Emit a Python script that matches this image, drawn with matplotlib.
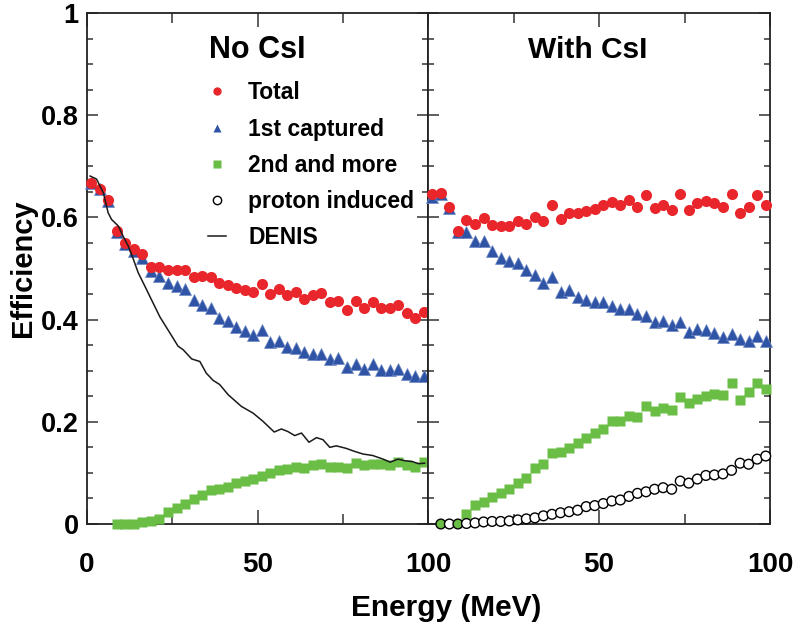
import matplotlib
matplotlib.use('Agg')
import matplotlib.pyplot as plt
from matplotlib.lines import Line2D
from matplotlib.ticker import MultipleLocator, FixedLocator

plt.rcParams['font.family'] = ['Liberation Sans', 'DejaVu Sans']
plt.rcParams['font.weight'] = 'bold'

# ---------------- data ----------------
energy = [1.25, 3.75, 6.25, 8.75, 11.25, 13.75, 16.25, 18.75, 21.25, 23.75,
          26.25, 28.75, 31.25, 33.75, 36.25, 38.75, 41.25, 43.75, 46.25, 48.75,
          51.25, 53.75, 56.25, 58.75, 61.25, 63.75, 66.25, 68.75, 71.25, 73.75,
          76.25, 78.75, 81.25, 83.75, 86.25, 88.75, 91.25, 93.75, 96.25, 98.75]

nocsi_total = [0.668, 0.656, 0.634, 0.573, 0.550, 0.539, 0.528, 0.503, 0.502, 0.497,
               0.497, 0.497, 0.484, 0.485, 0.484, 0.472, 0.467, 0.461, 0.457, 0.454,
               0.470, 0.450, 0.460, 0.448, 0.454, 0.441, 0.448, 0.453, 0.434, 0.437,
               0.418, 0.437, 0.422, 0.435, 0.422, 0.422, 0.428, 0.412, 0.403, 0.414]
nocsi_first = [0.668, 0.656, 0.632, 0.571, 0.547, 0.535, 0.520, 0.495, 0.486, 0.472,
               0.465, 0.460, 0.439, 0.429, 0.422, 0.403, 0.397, 0.385, 0.377, 0.369,
               0.379, 0.356, 0.359, 0.346, 0.344, 0.336, 0.333, 0.333, 0.322, 0.324,
               0.308, 0.314, 0.303, 0.314, 0.302, 0.302, 0.303, 0.294, 0.289, 0.290]
# 2nd and more: starts at the 4th energy bin
nocsi_second = [0.000, 0.000, 0.000, 0.003, 0.005, 0.009, 0.024, 0.031, 0.039,
                0.048, 0.057, 0.067, 0.068, 0.072, 0.080, 0.084, 0.089, 0.094,
                0.099, 0.105, 0.107, 0.111, 0.109, 0.116, 0.118, 0.111, 0.112,
                0.109, 0.119, 0.116, 0.118, 0.118, 0.116, 0.122, 0.116, 0.112, 0.122]

denis_energy = [0.9, 2.8, 4.8, 6.2, 7.2, 9.2, 10.6, 12.1, 13.6, 15.0, 17.0, 18.9,
                21.4, 24.3, 26.7, 28.2, 30.7, 33.1, 35.0, 37.0, 38.9, 41.4, 45.3,
                48.7, 51.6, 54.9, 57.0, 58.9, 60.9, 62.9, 65.1, 67.3, 69.2, 71.2,
                73.1, 76.0, 78.5, 80.9, 83.8, 86.8, 88.9, 91.2, 93.1, 95.5, 97.2, 99.0]
denis_eff = [0.681, 0.675, 0.648, 0.609, 0.596, 0.583, 0.563, 0.544, 0.518, 0.492,
             0.465, 0.439, 0.405, 0.374, 0.348, 0.341, 0.323, 0.318, 0.295, 0.281,
             0.273, 0.253, 0.230, 0.217, 0.201, 0.180, 0.186, 0.181, 0.173, 0.178,
             0.160, 0.169, 0.165, 0.150, 0.153, 0.148, 0.142, 0.137, 0.134, 0.127,
             0.121, 0.127, 0.124, 0.122, 0.118, 0.119]

csi_total = [0.645, 0.648, 0.621, 0.573, 0.594, 0.588, 0.598, 0.585, 0.583, 0.584,
             0.593, 0.588, 0.601, 0.592, 0.624, 0.596, 0.608, 0.608, 0.612, 0.617,
             0.625, 0.630, 0.624, 0.634, 0.621, 0.643, 0.619, 0.625, 0.614, 0.646,
             0.614, 0.629, 0.632, 0.629, 0.620, 0.645, 0.609, 0.621, 0.643, 0.625]
csi_first = [0.640, 0.645, 0.618, 0.571, 0.571, 0.554, 0.554, 0.534, 0.520, 0.514,
             0.510, 0.497, 0.488, 0.471, 0.484, 0.454, 0.458, 0.445, 0.439, 0.434,
             0.434, 0.426, 0.420, 0.420, 0.410, 0.408, 0.395, 0.398, 0.389, 0.395,
             0.376, 0.382, 0.379, 0.373, 0.365, 0.371, 0.363, 0.359, 0.367, 0.359]
# starts at the 5th energy bin
csi_second = [0.020, 0.037, 0.044, 0.052, 0.060, 0.068, 0.080, 0.090, 0.109,
              0.117, 0.139, 0.140, 0.148, 0.159, 0.168, 0.178, 0.186, 0.201,
              0.202, 0.212, 0.209, 0.230, 0.222, 0.227, 0.224, 0.248, 0.237,
              0.245, 0.251, 0.254, 0.252, 0.275, 0.243, 0.259, 0.275, 0.264]
# starts at the 2nd energy bin
csi_proton = [0.000, 0.000, 0.000, 0.001, 0.002, 0.004, 0.005, 0.005, 0.006,
              0.008, 0.010, 0.012, 0.016, 0.019, 0.022, 0.024, 0.027, 0.034,
              0.036, 0.040, 0.045, 0.047, 0.054, 0.060, 0.063, 0.068, 0.071,
              0.068, 0.084, 0.080, 0.088, 0.095, 0.096, 0.098, 0.105, 0.119,
              0.117, 0.127, 0.133]

panel_titles = ['No CsI', 'With CsI']
legend_labels = ['Total', '1st captured', '2nd and more', 'proton induced', 'DENIS']
x_label = 'Energy (MeV)'
y_label = 'Efficiency'

# ---------------- style ----------------
RED = '#E8262B'
BLUE = '#2F54A6'
GREEN = '#6ABD45'

W, H = 798, 640
fig = plt.figure(figsize=(W / 100, H / 100), dpi=100)
x0, x1, x2 = 87, 428, 770
ytop, ybot = 13, 524
axL = fig.add_axes([x0 / W, 1 - ybot / H, (x1 - x0) / W, (ybot - ytop) / H])
axR = fig.add_axes([x1 / W, 1 - ybot / H, (x2 - x1) / W, (ybot - ytop) / H], sharey=axL)

ms_c, ms_t, ms_s, ms_o = 8.0, 8.3, 7.4, 7.0

# left panel
axL.plot(energy[3:], nocsi_second, 's', color=GREEN, ms=ms_s, mec='none', zorder=3, clip_on=False)
axL.plot(energy, nocsi_first, '^', color=BLUE, ms=ms_t, mec='#6F88C4', mew=0.5, zorder=4, clip_on=False)
axL.plot(energy, nocsi_total, 'o', color=RED, ms=ms_c, mec='none', zorder=5, clip_on=False)
axL.plot(denis_energy, denis_eff, '-', color='#1a1a1a', lw=1.1, zorder=6)

# right panel
proton_face = ['white'] * len(csi_proton)
proton_face[0] = GREEN
proton_face[2] = GREEN
axR.plot(energy[4:], csi_second, 's', color=GREEN, ms=ms_s, mec='none', zorder=3, clip_on=False)
axR.scatter(energy[1:], csi_proton, s=ms_o ** 2, facecolors=proton_face, edgecolors='black',
            linewidths=1.0, zorder=4, clip_on=False)
axR.plot(energy, csi_first, '^', color=BLUE, ms=ms_t, mec='#6F88C4', mew=0.5, zorder=4, clip_on=False)
axR.plot(energy, csi_total, 'o', color=RED, ms=ms_c, mec='none', zorder=5, clip_on=False)

for ax in (axL, axR):
    ax.set_xlim(0, 100)
    ax.set_ylim(0, 1)
    ax.xaxis.set_major_locator(FixedLocator([0, 50, 100]))
    ax.xaxis.set_minor_locator(FixedLocator([25, 75]))
    ax.yaxis.set_major_locator(MultipleLocator(0.2))
    ax.yaxis.set_minor_locator(MultipleLocator(0.05))
    ax.tick_params(axis='both', which='both', direction='in', top=True, right=True,
                   color='#333333', width=1.1)
    ax.tick_params(axis='y', which='major', length=8, pad=6, labelsize=19.5)
    ax.tick_params(axis='y', which='minor', length=4)
    ax.tick_params(axis='x', which='major', length=10, pad=20, labelsize=20)
    ax.tick_params(axis='x', which='minor', length=7)
    for sp in ax.spines.values():
        sp.set_linewidth(1.3)
        sp.set_color('#222222')

axL.set_yticks([0, 0.2, 0.4, 0.6, 0.8, 1.0])
axL.set_yticklabels(['0', '0.2', '0.4', '0.6', '0.8', '1'], fontweight='bold')
axL.set_xticklabels(['0', '50', '100'], fontweight='bold')
axR.set_xticklabels(['', '50', '100'], fontweight='bold')
axR.tick_params(axis='y', which='both', labelleft=False)

axL.text(0.5, 0.928, panel_titles[0], transform=axL.transAxes, ha='center', va='center',
         fontsize=22, fontweight='bold')
axR.text(0.468, 0.928, panel_titles[1], transform=axR.transAxes, ha='center', va='center',
         fontsize=21.5, fontweight='bold')

handles = [
    Line2D([], [], ls='none', marker='o', color=RED, mec='none', ms=6),
    Line2D([], [], ls='none', marker='^', color=BLUE, mec='none', ms=6),
    Line2D([], [], ls='none', marker='s', color=GREEN, mec='none', ms=5.5),
    Line2D([], [], ls='none', marker='o', mfc='white', mec='black', mew=1.0, ms=6),
    Line2D([], [], ls='-', color='#1a1a1a', lw=1.1),
]
leg = axL.legend(handles, legend_labels, loc='upper left', bbox_to_anchor=(0.355, 0.866),
                 frameon=False, fontsize=16.5, handlelength=0.8, handletextpad=0.95,
                 labelspacing=0.57, borderpad=0, borderaxespad=0)
for t in leg.get_texts():
    t.set_fontweight('bold')

fig.text(446 / W, 1 - 608 / H, x_label, ha='center', va='center', fontsize=21.5, fontweight='bold')
fig.text(23 / W, 1 - 268 / H, y_label, ha='center', va='center', rotation=90,
         fontsize=21, fontweight='bold')

fig.savefig('out.png', dpi=100)
